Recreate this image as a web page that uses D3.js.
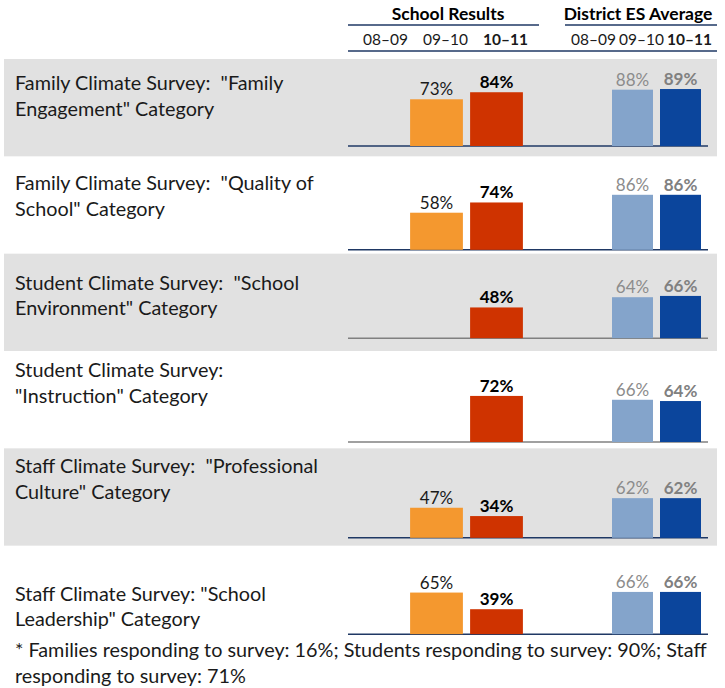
<!DOCTYPE html>
<html>
<head>
<meta charset="utf-8">
<script src="https://cdn.jsdelivr.net/npm/d3@7"></script>
<style>
  body { margin: 0; background: #fff; }
  svg text { font-family: Lato, "Open Sans", sans-serif; white-space: pre; }
</style>
</head>
<body>
<svg id="chart" width="725" height="688"></svg>
<script>
// categories (two lines each, as on the sheet)
var categories = [
    ['Family Climate Survey:  "Family', 'Engagement" Category'],
    ['Family Climate Survey:  "Quality of', 'School" Category'],
    ['Student Climate Survey:  "School', 'Environment" Category'],
    ['Student Climate Survey:', '"Instruction" Category'],
    ['Staff Climate Survey:  "Professional', 'Culture" Category'],
    ['Staff Climate Survey: "School', 'Leadership" Category']
];
var years = ["08\u201309", "09\u201310", "10\u201311"];

var school0809 = [null, null, null, null, null, null];
var school0910 = [73, 58, null, null, 47, 65];
var school1011 = [84, 74, 48, 72, 34, 39];

var district0809 = [null, null, null, null, null, null];
var district0910 = [88, 86, 64, 66, 62, 66];
var district1011 = [89, 86, 66, 64, 62, 66];

var footnote = [
    "* Families responding to survey: 16%; Students responding to survey: 90%; Staff",
    "responding to survey: 71%"
];

var svg = d3.select("#chart");

// rows
var rowScale = d3.scaleBand()
    .domain(d3.range(categories.length))
    .range([59, 643]);
var rowH = rowScale.step();
var baseOff = [87, 93.5, 84.5, 91, 89.5, 88.5];
var labelOff = [31, 34, 36, 26, 25, 55];

// bar heights (px per percent)
var hScale = d3.scaleLinear().domain([0, 100]).range([0, 64]);

// column scales
var schoolX = d3.scaleBand().domain(years)
    .range([346.5, 526.5]).paddingInner(0.12).paddingOuter(0.06);
var districtX = d3.scaleBand().domain(years)
    .range([560.5, 704.5]).paddingInner(0.146).paddingOuter(0.073);

var seriesList = [
    {vals: school0809, x: schoolX, yr: years[0], fill: "#f4982f", txt: "#1a1a1a", bold: false},
    {vals: school0910, x: schoolX, yr: years[1], fill: "#f4982f", txt: "#1a1a1a", bold: false},
    {vals: school1011, x: schoolX, yr: years[2], fill: "#cf3300", txt: "#000", bold: true},
    {vals: district0809, x: districtX, yr: years[0], fill: "#84a4cb", txt: "#8c8c8c", bold: false},
    {vals: district0910, x: districtX, yr: years[1], fill: "#84a4cb", txt: "#8c8c8c", bold: false},
    {vals: district1011, x: districtX, yr: years[2], fill: "#0b459c", txt: "#808080", bold: true}
];

// grey bands
svg.selectAll("rect.band")
    .data(categories.filter((d, i) => i % 2 == 0).map((d, k) => k * 2))
    .enter().append("rect")
    .attr("class", "band")
    .attr("x", 4)
    .attr("y", i => rowScale(i))
    .attr("width", 713)
    .attr("height", rowH)
    .attr("fill", "#e1e1e1");

// font size fitted to footnote width
var probe = svg.append("text").attr("font-size", 20).text(footnote[0]);
var fs = 20 * 692 / probe.node().getComputedTextLength();
probe.remove();

// header
svg.append("text").attr("x", 448).attr("y", 20).attr("text-anchor", "middle")
    .attr("font-size", 17.5).attr("font-weight", "bold").text("School Results");
svg.append("text").attr("x", 638).attr("y", 20).attr("text-anchor", "middle")
    .attr("font-size", 17.5).attr("font-weight", "bold").text("District ES Average");
svg.append("line").attr("x1", 348).attr("x2", 539).attr("y1", 25).attr("y2", 25)
    .attr("stroke", "#1f3864").attr("stroke-width", 1.5);
svg.append("line").attr("x1", 565).attr("x2", 717).attr("y1", 25).attr("y2", 25)
    .attr("stroke", "#1f3864").attr("stroke-width", 1.5);
svg.append("line").attr("x1", 348).attr("x2", 717).attr("y1", 51).attr("y2", 51)
    .attr("stroke", "#1f3864").attr("stroke-width", 1.5);

[schoolX, districtX].forEach(function(sc) {
    svg.selectAll(null).data(years).enter().append("text")
        .attr("x", d => sc(d) + sc.bandwidth() / 2 + 9)
        .attr("y", 45)
        .attr("text-anchor", "middle")
        .attr("font-size", 15.5)
        .attr("font-weight", (d, i) => i == 2 ? "bold" : "normal")
        .attr("fill", "#1a1a1a")
        .text(d => d);
});

// rows
categories.forEach(function(cat, i) {
    var top = rowScale(i);
    var base = top + baseOff[i];

    svg.append("line")
        .attr("x1", 348).attr("x2", 708)
        .attr("y1", base).attr("y2", base)
        .attr("stroke", (i == 2 || i == 3) ? "#808080" : "#1f3864")
        .attr("stroke-width", 1.5);

    svg.append("text")
        .attr("x", 15)
        .attr("y", top + labelOff[i])
        .attr("font-size", fs)
        .attr("fill", "#1a1a1a")
        .selectAll("tspan").data(cat).enter().append("tspan")
        .attr("x", 15)
        .attr("dy", (d, k) => k == 0 ? 0 : 25.5)
        .text(d => d);

    var g = svg.append("g");
    var cells = seriesList.filter(s => s.vals[i] != null);
    g.selectAll("rect").data(cells).enter().append("rect")
        .attr("x", s => s.x(s.yr))
        .attr("y", s => base - hScale(s.vals[i]))
        .attr("width", s => s.x.bandwidth())
        .attr("height", s => hScale(s.vals[i]))
        .attr("fill", s => s.fill);

    g.selectAll("text").data(cells).enter().append("text")
        .attr("x", s => s.x(s.yr) + s.x.bandwidth() / 2)
        .attr("y", s => base - hScale(s.vals[i]) - 4)
        .attr("text-anchor", "middle")
        .attr("font-size", 17)
        .attr("font-weight", s => s.bold ? "bold" : "normal")
        .attr("fill", s => s.txt)
        .text(s => s.vals[i] + "%");
});

// footnote
svg.append("text")
    .attr("x", 15).attr("y", 657)
    .attr("font-size", fs)
    .attr("fill", "#1a1a1a")
    .selectAll("tspan").data(footnote).enter().append("tspan")
    .attr("x", 15)
    .attr("dy", (d, k) => k == 0 ? 0 : 26)
    .text(d => d);
</script>
</body>
</html>
